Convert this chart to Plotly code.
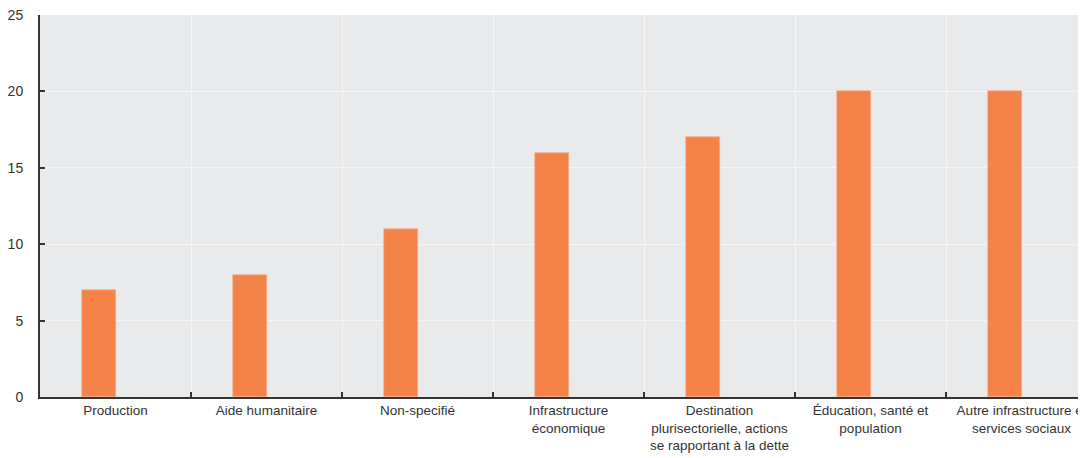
import plotly.graph_objects as go

categories = [
    "Production",
    "Aide humanitaire",
    "Non-specifié",
    "Infrastructure<br>économique",
    "Destination<br>plurisectorielle, actions<br>se rapportant à la dette",
    "Éducation, santé et<br>population",
    "Autre infrastructure et<br>services sociaux",
]
values = [7, 8, 11, 16, 17, 20, 20]
y_ticks = [0, 5, 10, 15, 20, 25]

FONT = "Liberation Sans Narrow, Arial Narrow, Liberation Sans, Arial, sans-serif"

fig = go.Figure()
fig.add_trace(go.Bar(
    x=categories, y=values,
    width=0.22, offset=-0.22,
    marker=dict(color="#F4834A", line=dict(color="#F7B08A", width=0.6)),
    showlegend=False,
))

fig.update_layout(
    width=1078, height=450,
    margin=dict(l=32, r=0, t=7, b=61, autoexpand=False),
    paper_bgcolor="white",
    plot_bgcolor="#E9EAEC",
    font=dict(family=FONT, size=14, color="#333333"),
    bargap=0,
)
fig.update_xaxes(
    type="category",
    range=[-0.5, 6.427],
    tickson="boundaries",
    tickangle=0,
    automargin=False,
    ticklabeloverflow="allow",
    ticks="inside", ticklen=5, tickwidth=1.5, tickcolor="#333333",
    showline=True, linecolor="#333333", linewidth=2,
    showgrid=True, gridcolor="#F5F5F6", gridwidth=1,
    tickfont=dict(family=FONT, size=13.5, color="#333333"),
)
fig.update_yaxes(
    range=[0, 25],
    tickvals=y_ticks,
    automargin=False,
    ticklabeloverflow="allow",
    ticks="inside", ticklen=5, tickwidth=1.5, tickcolor="#333333",
    showline=True, linecolor="#333333", linewidth=2,
    showgrid=True, gridcolor="#F5F5F6", gridwidth=1,
    zeroline=False,
    ticklabelstandoff=12,
    tickfont=dict(family=FONT, size=14, color="#333333"),
)

fig.write_html("out.html")
